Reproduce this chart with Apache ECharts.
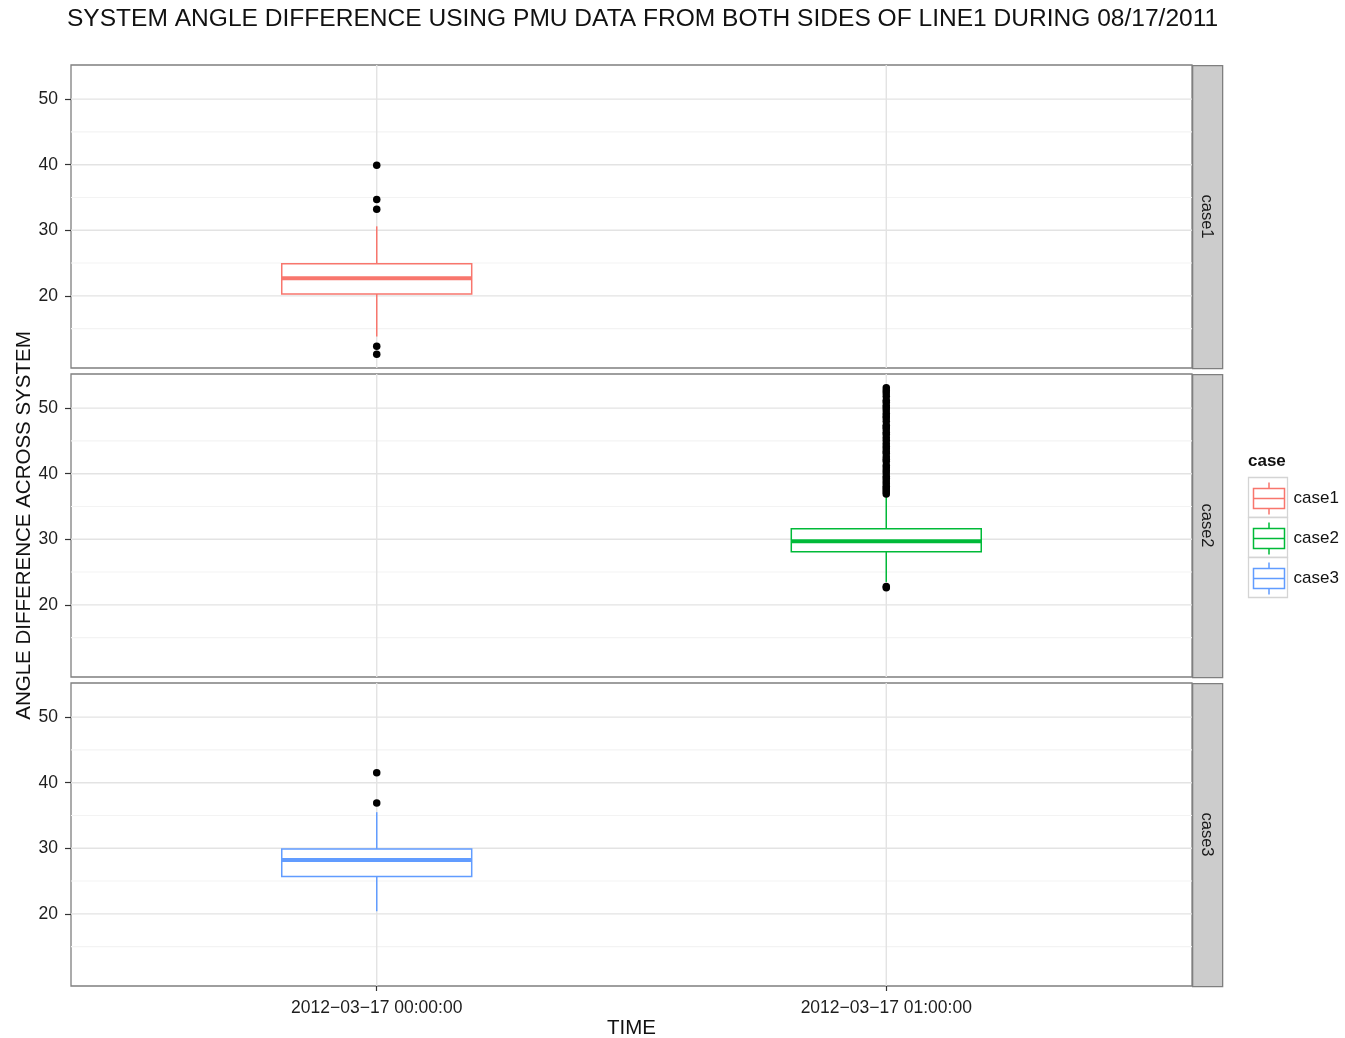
<!DOCTYPE html>
<html>
<head>
<meta charset="utf-8">
<title>System angle difference</title>
<script src="https://cdn.jsdelivr.net/npm/echarts@6/dist/echarts.min.js"></script>
<style>
  html, body { margin: 0; padding: 0; background: #fff; }
  #chart { width: 1345px; height: 1038px; }
</style>
</head>
<body>
<div id="chart"></div>
<script>
// ---- data ----
const CASES = ['case1', 'case2', 'case3'];
const CASE_COLORS = ['#F8766D', '#00BA38', '#619CFF'];
const TIME_LABELS = ['2012\u221203\u221217 00:00:00', '2012\u221203\u221217 01:00:00'];
// position of each case on the time axis (1 = first time label, 2 = second)
const CASE_TIME_POS = [1, 2, 1];

// box statistics: [lower whisker, Q1, median, Q3, upper whisker]
const case1Box = [13.8, 20.3, 22.7, 24.9, 30.6];
const case2Box = [23.5, 28.1, 29.7, 31.6, 36.6];
const case3Box = [20.4, 25.7, 28.2, 29.9, 35.5];

// points beyond the whiskers
const case1Outliers = [39.9, 34.7, 33.2, 12.3, 11.1];
const case2Outliers = [53.1, 52.7, 52.3, 51.8, 51.2, 50.9, 50.4, 50.1, 49.7, 49.2,
  48.8, 48.5, 48.0, 47.4, 47.1, 46.8, 46.3, 46.0, 45.5, 45.1, 44.6, 44.2, 43.8,
  43.4, 43.1, 42.6, 42.2, 41.9, 41.3, 40.9, 40.5, 40.1, 39.6, 39.3, 38.9, 38.5,
  38.1, 37.8, 37.5, 37.2, 36.9, 22.8, 22.6];
const case3Outliers = [41.5, 36.9];

const Y_TICKS = [20, 30, 40, 50];
const Y_MINOR = [15, 25, 35, 45];

const BOXES = [case1Box, case2Box, case3Box];
const OUTLIERS = [case1Outliers, case2Outliers, case3Outliers];

// ---- layout ----
const FONT = '"Liberation Sans", Arial, Helvetica, sans-serif';
const GRID_LEFT = 71;
const GRID_WIDTH = 1121;
const PANEL_TOPS = [65, 374, 683];
const PANEL_HEIGHT = 303;
const STRIP_WIDTH = 30;
const BOX_HALF = 0.1864;       // half box width in axis units
const X_MIN = 0.4, X_MAX = 2.6; // discrete axis with 0.6 padding

// shared y range across facets, padded 5% each side
const allValues = [].concat(...BOXES, ...OUTLIERS);
const dataMin = Math.min(...allValues), dataMax = Math.max(...allValues);
const pad = (dataMax - dataMin) * 0.05;
const Y_MIN = dataMin - pad, Y_MAX = dataMax + pad;

const chart = echarts.init(document.getElementById('chart'), null, { renderer: 'canvas' });

const grids = PANEL_TOPS.map(top => ({
  left: GRID_LEFT, top: top, width: GRID_WIDTH, height: PANEL_HEIGHT,
  show: true, backgroundColor: '#fff', borderColor: '#7f7f7f', borderWidth: 1.3,
  containLabel: false, outerBoundsMode: 'none'
}));

const xAxes = PANEL_TOPS.map((_, i) => {
  const bottom = i === PANEL_TOPS.length - 1;
  return {
    type: 'value', gridIndex: i, min: X_MIN, max: X_MAX,
    axisLine: { show: false },
    splitLine: { show: false },
    axisTick: { show: bottom, length: 5, customValues: [1, 2], lineStyle: { color: '#333', width: 1.2 } },
    axisLabel: {
      show: bottom, customValues: [1, 2], margin: 13,
      fontFamily: FONT, fontSize: 17.5, color: '#1e1e1e',
      formatter: v => TIME_LABELS[Math.round(v) - 1] || ''
    },
    name: bottom ? 'TIME' : '',
    nameLocation: 'middle', nameGap: 32,
    nameTextStyle: { fontFamily: FONT, fontSize: 20.5, color: '#111' }
  };
});

const yAxes = PANEL_TOPS.map((_, i) => ({
  type: 'value', gridIndex: i, min: Y_MIN, max: Y_MAX,
  axisLine: { show: false },
  splitLine: { show: false },
  axisTick: { show: true, length: 6, customValues: Y_TICKS, lineStyle: { color: '#333', width: 1.2 } },
  axisLabel: { customValues: Y_TICKS, margin: 13, fontFamily: FONT, fontSize: 17.5, color: '#1e1e1e' },
  name: i === 1 ? 'ANGLE DIFFERENCE ACROSS SYSTEM' : '',
  nameLocation: 'middle', nameGap: 36, nameRotate: 90, nameMoveOverlap: false,
  nameTextStyle: { fontFamily: FONT, fontSize: 20.5, color: '#111' }
}));

// background grid lines drawn through each panel's own scales
function renderGridLine(params, api) {
  const cs = params.coordSys;
  const dim = api.value(0);   // 0 = vertical line at x, 1 = horizontal line at y
  const v = api.value(1);
  const major = api.value(2) === 1;
  const style = { stroke: major ? '#e3e3e3' : '#f3f3f3', lineWidth: major ? 1.4 : 1.1 };
  if (dim === 0) {
    const p = api.coord([v, Y_MIN]);
    return { type: 'line', shape: { x1: p[0], y1: cs.y, x2: p[0], y2: cs.y + cs.height }, style };
  }
  const p = api.coord([X_MIN, v]);
  return { type: 'line', shape: { x1: cs.x, y1: p[1], x2: cs.x + cs.width, y2: p[1] }, style };
}
const gridLineData = []
  .concat(Y_MINOR.map(v => [1, v, 0]))
  .concat(Y_TICKS.map(v => [1, v, 1]))
  .concat([[0, 1, 1], [0, 2, 1]]);

function renderBox(params, api) {
  const x = api.value(0);
  const lo = api.value(1), q1 = api.value(2), med = api.value(3), q3 = api.value(4), hi = api.value(5);
  const tl = api.coord([x - BOX_HALF, q3]);
  const br = api.coord([x + BOX_HALF, q1]);
  const pm = api.coord([x, med]);
  const plo = api.coord([x, lo]);
  const phi = api.coord([x, hi]);
  const color = api.visual('color');
  const thin = { stroke: color, lineWidth: 1.5, fill: null };
  return {
    type: 'group',
    children: [
      { type: 'line', shape: { x1: phi[0], y1: phi[1], x2: phi[0], y2: tl[1] }, style: thin },
      { type: 'line', shape: { x1: plo[0], y1: br[1], x2: plo[0], y2: plo[1] }, style: thin },
      { type: 'rect', shape: { x: tl[0], y: tl[1], width: br[0] - tl[0], height: br[1] - tl[1] },
        style: { stroke: color, lineWidth: 1.5, fill: '#fff' } },
      { type: 'line', shape: { x1: tl[0], y1: pm[1], x2: br[0], y2: pm[1] }, style: { stroke: color, lineWidth: 4 } }
    ]
  };
}

const series = [];
CASES.forEach((name, i) => {
  series.push({
    type: 'custom', name: 'grid' + i, xAxisIndex: i, yAxisIndex: i, z: 1, silent: true,
    renderItem: renderGridLine, data: gridLineData, encode: { x: 1 }
  });
  series.push({
    type: 'custom', name: name, xAxisIndex: i, yAxisIndex: i, z: 3,
    itemStyle: { color: CASE_COLORS[i] },
    renderItem: renderBox,
    dimensions: ['x', 'low', 'q1', 'median', 'q3', 'high'],
    encode: { x: 0, y: [1, 2, 3, 4, 5] },
    data: [[CASE_TIME_POS[i]].concat(BOXES[i])]
  });
  series.push({
    type: 'scatter', name: 'outliers' + i, xAxisIndex: i, yAxisIndex: i, z: 4,
    symbol: 'circle', symbolSize: 7.5, silent: true,
    itemStyle: { color: '#000', opacity: 1 },
    data: OUTLIERS[i].map(v => [CASE_TIME_POS[i], v])
  });
});

// facet strips on the right of each panel
const graphics = [];
PANEL_TOPS.forEach((top, i) => {
  graphics.push({
    type: 'rect', left: GRID_LEFT + GRID_WIDTH, top: top,
    shape: { x: 0, y: 0, width: STRIP_WIDTH, height: PANEL_HEIGHT },
    style: { fill: '#cccccc', stroke: '#7f7f7f', lineWidth: 1.3 }, silent: true
  });
  graphics.push({
    type: 'text', x: GRID_LEFT + GRID_WIDTH + STRIP_WIDTH / 2, y: top + PANEL_HEIGHT / 2,
    rotation: -Math.PI / 2,
    style: { text: CASES[i], x: 0, y: 0, align: 'center', verticalAlign: 'middle',
      font: '16.5px ' + FONT, fill: '#1a1a1a' }, silent: true
  });
});
// legend title and key frames
graphics.push({
  type: 'text', x: 1248, y: 461,
  style: { text: 'case', align: 'left', verticalAlign: 'middle', font: 'bold 17px ' + FONT, fill: '#111' }
});
CASES.forEach((_, i) => {
  graphics.push({
    type: 'rect', x: 1248.5, y: 477.5 + i * 40, z: -1,
    shape: { x: 0, y: 0, width: 39, height: 40 },
    style: { fill: '#fff', stroke: '#d4d4d4', lineWidth: 1.3 }, silent: true
  });
});

const BOX_ICON = 'path://M15.5,0L15.5,6M0,6L31,6L31,26L0,26ZM0,16L31,16M15.5,26L15.5,32';

const option = {
  animation: false,
  backgroundColor: '#fff',
  title: {
    text: 'SYSTEM ANGLE DIFFERENCE USING PMU DATA FROM BOTH SIDES OF LINE1 DURING 08/17/2011',
    left: 62, top: 2,
    textStyle: { fontFamily: FONT, fontSize: 24.55, fontWeight: 'normal', color: '#111' }
  },
  legend: {
    orient: 'vertical', left: 1251, top: 480, padding: 0,
    itemWidth: 31, itemHeight: 32, itemGap: 3,
    selectedMode: false,
    data: CASES.map((name, i) => ({
      name: name, icon: BOX_ICON,
      itemStyle: { color: 'none', borderColor: CASE_COLORS[i], borderWidth: 1.5 }
    })),
    textStyle: { fontFamily: FONT, fontSize: 17, color: '#111', padding: [0, 0, 0, 4] }
  },
  grid: grids,
  xAxis: xAxes,
  yAxis: yAxes,
  series: series,
  graphic: graphics
};

chart.setOption(option);
</script>
</body>
</html>
